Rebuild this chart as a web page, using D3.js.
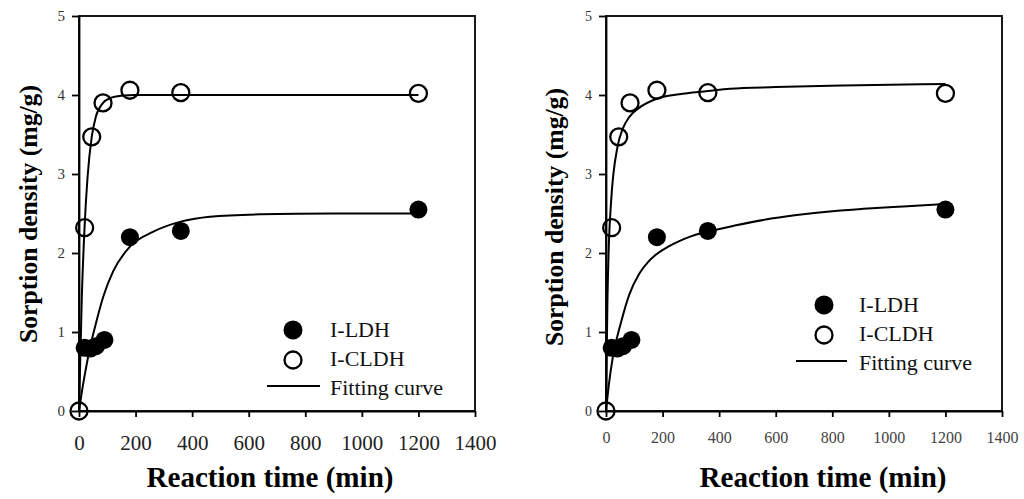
<!DOCTYPE html>
<html>
<head>
<meta charset="utf-8">
<script src="https://cdn.jsdelivr.net/npm/d3@7"></script>
<style>
  body { margin: 0; background: #fff; }
  svg { display: block; }
  text { font-family: "Liberation Serif", "Times New Roman", serif; }
</style>
</head>
<body>
<div id="chart"></div>
<script>
// tick labels
var timeTicks = [0, 200, 400, 600, 800, 1000, 1200, 1400];
var sorptionTicks = [0, 1, 2, 3, 4, 5];

// measured points (same in both panels)
var ldhTime = [20, 40, 60, 90, 180, 360, 1200];
var ldhValue = [0.80, 0.79, 0.82, 0.90, 2.20, 2.28, 2.55];
var cldhTime = [0, 20, 45, 85, 180, 360, 1200];
var cldhValue = [0, 2.32, 3.47, 3.90, 4.06, 4.03, 4.02];

// fitting curves
var fitLdhTimeA = [0, 10, 20, 40, 57, 86, 121, 180, 263, 363, 463, 640, 900, 1200];
var fitLdhValueA = [0, 0.24, 0.45, 0.82, 1.07, 1.45, 1.77, 2.08, 2.27, 2.40, 2.46, 2.49, 2.50, 2.50];
var fitCldhTimeA = [0, 10, 20, 30, 45, 60, 85, 110, 150, 200, 400, 800, 1200];
var fitCldhValueA = [0, 1.45, 2.35, 2.95, 3.47, 3.73, 3.90, 3.96, 3.99, 4.00, 4.00, 4.00, 4.00];

// fitting curves
var fitLdhTimeB = [0, 10, 25, 53, 82, 118, 150, 177, 220, 259, 300, 360, 460, 560, 674, 800, 910, 1050, 1200];
var fitLdhValueB = [0, 0.33, 0.70, 1.12, 1.47, 1.74, 1.89, 1.98, 2.08, 2.15, 2.21, 2.27, 2.35, 2.42, 2.48, 2.53, 2.56, 2.59, 2.62];
var fitCldhTimeB = [0, 5, 10, 18, 41, 59, 82, 118, 177, 259, 360, 438, 600, 839, 1200];
var fitCldhValueB = [0, 1.38, 2.10, 2.65, 3.35, 3.57, 3.72, 3.84, 3.95, 4.01, 4.05, 4.08, 4.10, 4.12, 4.14];

var legendLabels = ["I-LDH", "I-CLDH", "Fitting curve"];

var zip = function(xs, ys) {
    return xs.map(function(x, i) { return {t: x, v: ys[i]}; });
}

var drawPanels = function() {
    var svg = d3.select("#chart").append("svg")
	.attr("width", 1024)
	.attr("height", 499);

    svg.append("rect").attr("width", 1024).attr("height", 499).attr("fill", "#fff");

    var panels = [
	{left: 79, right: 475, fitLdh: zip(fitLdhTimeA, fitLdhValueA), fitCldh: zip(fitCldhTimeA, fitCldhValueA),
	 xTickSize: 21, xTickY: 450, xTickColor: "#222", yTickSize: 15,
	 xTitleX: 270, yTitleY: 214, yTitleX: 37,
	 legX: 293, legY: 330, lineX0: 267, lineX1: 320, textX: 330},
	{left: 606, right: 1002, fitLdh: zip(fitLdhTimeB, fitLdhValueB), fitCldh: zip(fitCldhTimeB, fitCldhValueB),
	 xTickSize: 16, xTickY: 443, xTickColor: "#444", yTickSize: 14,
	 xTitleX: 823, yTitleY: 217, yTitleX: 563,
	 legX: 824, legY: 305, lineX0: 796, lineX1: 847, textX: 859}
    ];

    var plotTop = 16, plotBottom = 411;

    panels.forEach(function(p) {
	var x = d3.scaleLinear().domain([0, 1400]).range([p.left, p.right]);
	var y = d3.scaleLinear().domain([0, 5]).range([plotBottom, plotTop]);

	var g = svg.append("g");

	// frame
	g.append("rect")
	    .attr("x", p.left).attr("y", plotTop)
	    .attr("width", p.right - p.left).attr("height", plotBottom - plotTop)
	    .attr("fill", "none").attr("stroke", "#000").attr("stroke-width", 1.8);

	// x axis
	var xa = g.append("g")
	    .attr("transform", "translate(0," + plotBottom + ")")
	    .call(d3.axisBottom(x).tickValues(timeTicks).tickFormat(d3.format("d"))
		  .tickSize(6).tickSizeOuter(0));
	xa.select(".domain").attr("stroke-width", 1.8);
	xa.selectAll(".tick line").attr("stroke-width", 1.8);
	xa.selectAll(".tick text")
	    .attr("y", p.xTickY - plotBottom)
	    .attr("dy", null)
	    .style("font-size", p.xTickSize + "px")
	    .style("font-family", "'Liberation Serif', serif")
	    .attr("fill", p.xTickColor);

	// y axis
	var ya = g.append("g")
	    .attr("transform", "translate(" + p.left + ",0)")
	    .call(d3.axisLeft(y).tickValues(sorptionTicks).tickFormat(d3.format("d"))
		  .tickSize(7).tickSizeOuter(0));
	ya.select(".domain").attr("stroke-width", 1.8);
	ya.selectAll(".tick line").attr("stroke-width", 1.8);
	ya.selectAll(".tick text")
	    .attr("x", -14)
	    .style("font-size", p.yTickSize + "px")
	    .style("font-family", "'Liberation Serif', serif")
	    .attr("fill", "#333");

	// titles
	g.append("text")
	    .attr("x", p.xTitleX).attr("y", 487)
	    .attr("text-anchor", "middle")
	    .attr("textLength", 247).attr("lengthAdjust", "spacingAndGlyphs")
	    .style("font-size", "29px").style("font-weight", "bold")
	    .text("Reaction time (min)");

	g.append("text")
	    .attr("transform", "translate(" + p.yTitleX + "," + p.yTitleY + ") rotate(-90)")
	    .attr("text-anchor", "middle")
	    .attr("textLength", 258).attr("lengthAdjust", "spacingAndGlyphs")
	    .style("font-size", "26px").style("font-weight", "bold")
	    .text("Sorption density (mg/g)");

	// fitting curves
	var line = d3.line()
	    .x(function(d) { return x(d.t); })
	    .y(function(d) { return y(d.v); })
	    .curve(d3.curveMonotoneX);

	[p.fitLdh, p.fitCldh].forEach(function(fit) {
	    g.append("path")
		.datum(fit)
		.attr("d", line)
		.attr("fill", "none")
		.attr("stroke", "#000")
		.attr("stroke-width", 2);
	});

	// markers
	g.selectAll(".ldh").data(zip(ldhTime, ldhValue)).enter().append("circle")
	    .attr("class", "ldh")
	    .attr("cx", function(d) { return x(d.t); })
	    .attr("cy", function(d) { return y(d.v); })
	    .attr("r", 9)
	    .attr("fill", "#000");

	g.selectAll(".cldh").data(zip(cldhTime, cldhValue)).enter().append("circle")
	    .attr("class", "cldh")
	    .attr("cx", function(d) { return x(d.t); })
	    .attr("cy", function(d) { return y(d.v); })
	    .attr("r", 8.5)
	    .attr("fill", "none")
	    .attr("stroke", "#000")
	    .attr("stroke-width", 2.3);

	// legend
	g.append("circle").attr("cx", p.legX).attr("cy", p.legY).attr("r", 9.5).attr("fill", "#000");
	g.append("circle").attr("cx", p.legX).attr("cy", p.legY + 30).attr("r", 8.5)
	    .attr("fill", "none").attr("stroke", "#000").attr("stroke-width", 2.3);
	g.append("line")
	    .attr("x1", p.lineX0).attr("x2", p.lineX1)
	    .attr("y1", p.legY + 56).attr("y2", p.legY + 56)
	    .attr("stroke", "#000").attr("stroke-width", 2.2);

	g.selectAll(".leg").data(legendLabels).enter().append("text")
	    .attr("class", "leg")
	    .attr("x", p.textX)
	    .attr("y", function(d, i) { return p.legY + 7 + i * 29; })
	    .style("font-size", "22px")
	    .attr("fill", "#111")
	    .text(function(d) { return d; });
    });
}

drawPanels();
</script>
</body>
</html>
